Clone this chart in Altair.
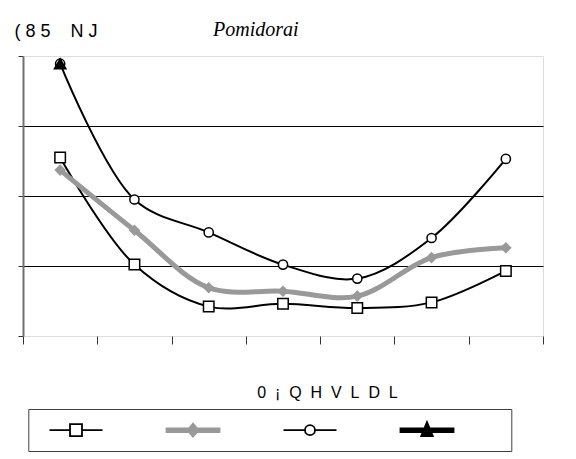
import altair as alt
import pandas as pd

months = ["1", "2", "3", "4", "5", "6", "7"]
series = ["Serija 1", "Serija 2", "Serija 3", "Serija 4"]
s1 = [2.55, 1.02, 0.42, 0.46, 0.40, 0.48, 0.93]
s2 = [2.37, 1.51, 0.69, 0.64, 0.57, 1.12, 1.26]
s3 = [3.89, 1.95, 1.48, 1.02, 0.82, 1.40, 2.53]
s4 = [3.89, None, None, None, None, None, None]

rows = []
for name, vals in zip(series, [s1, s2, s3, s4]):
    for m, v in zip(months, vals):
        rows.append({"month": m, "series": name, "value": v})
df = pd.DataFrame(rows)

# legend glyphs (line + marker) as custom symbol paths
bar = "M-1.767,-0.123H1.767V0.123H-1.767Z"
glyph_core = [
    "M-1.767,0H-0.4M0.4,0H1.767M-0.4,-0.4H0.4V0.4H-0.4Z",
    bar + "M0,-0.433L0.367,0L0,0.433L-0.367,0Z",
    "M-1.767,0H-0.333M0.333,0H1.767M-0.333,0A0.333,0.333,0,1,1,0.333,0A0.333,0.333,0,1,1,-0.333,0Z",
    bar + "M0,-0.533L0.387,0.4L-0.387,0.4Z",
]
glyph_extent = ["M-2.6,-0.82M4.71,0.807", "M-2.6,-0.82M4.71,0.807",
                "M-2.6,-0.82M4.71,0.807", "M-2.6,-0.82M5.027,0.807"]
glyphs = [e + g for e, g in zip(glyph_extent, glyph_core)]
leg_df = pd.DataFrame({"key": series})

line_colors = ["black", "#999999", "black", "black"]
line_widths = [2, 5, 2, 5]
marker_shapes = ["square", "diamond", "circle", "triangle-up"]
marker_fill = ["white", "#999999", "white", "black"]
marker_stroke = ["black", "#999999", "black", "black"]
marker_size = [110, 90, 85, 130]

NB = "\u00a0"
x_title = (NB * 2).join(["0", "¡", "Q", "H", "V", "L", "D", "L"])
y_title = "(" + NB + "8" + NB + "5" + NB * 4 + "N" + NB + "J"

x_enc = alt.X(
    "month:N", sort=months,
    scale=alt.Scale(type="band", paddingInner=0, paddingOuter=0),
    axis=alt.Axis(labels=False, ticks=True, tickSize=8, tickBand="extent",
                  tickColor="#333333", domain=False, grid=False,
                  title=x_title, titleFont="Liberation Sans",
                  titleFontSize=16, titleFontWeight="normal", titleColor="black",
                  titleAlign="center", titleBaseline="alphabetic",
                  titleX=304, titleY=61),
)
y_enc = alt.Y(
    "value:Q", scale=alt.Scale(domain=[0, 4], nice=False, zero=True),
    axis=alt.Axis(values=[0, 1, 2, 3, 4], labels=False, ticks=True, tickSize=5,
                  tickColor="#333333", domain=True, domainColor="#707070",
                  domainWidth=2, grid=True, gridColor="black", gridWidth=1,
                  gridOpacity={"condition": {"test": "datum.value === 0 || datum.value === 4", "value": 0}, "value": 1},
                  title=y_title, titleAngle=0, titleAlign="left",
                  titleBaseline="alphabetic", titleX=-9, titleY=-20,
                  titleFont="Liberation Sans", titleFontSize=18,
                  titleFontWeight="normal", titleColor="black"),
)

lines = alt.Chart(df).mark_line(interpolate="catmull-rom").encode(
    x=x_enc, y=y_enc,
    color=alt.Color("series:N", scale=alt.Scale(domain=series, range=line_colors), legend=None),
    strokeWidth=alt.StrokeWidth("series:N", scale=alt.Scale(type="ordinal", domain=series, range=line_widths), legend=None),
)

points = alt.Chart(df).mark_point(filled=True, strokeWidth=1.5, opacity=1).encode(
    x=x_enc, y=y_enc,
    shape=alt.Shape("series:N", scale=alt.Scale(domain=series, range=marker_shapes), legend=None),
    fill=alt.Fill("series:N", scale=alt.Scale(domain=series, range=marker_fill), legend=None),
    stroke=alt.Stroke("series:N", scale=alt.Scale(domain=series, range=marker_stroke), legend=None),
    size=alt.Size("series:N", scale=alt.Scale(type="ordinal", domain=series, range=marker_size), legend=None),
)

leg = alt.Legend(
    orient="none", legendX=5.3, legendY=353, direction="horizontal",
    columns=4, gridAlign="each", title=None, labelExpr="''", labelOffset=0,
    symbolSize=900, symbolStrokeWidth=1.8, symbolOffset=26.7, symbolOpacity=1,
    padding=5, columnPadding=0, rowPadding=0,
    strokeColor="#404040", fillColor="white",
)
legend_layer = alt.Chart(leg_df).mark_point(filled=True, opacity=0).encode(
    shape=alt.Shape("key:N", scale=alt.Scale(domain=series, range=glyphs), legend=leg),
    fill=alt.Fill("key:N", scale=alt.Scale(domain=series, range=marker_fill), legend=leg),
    stroke=alt.Stroke("key:N", scale=alt.Scale(domain=series, range=marker_stroke), legend=leg),
)

chart = alt.layer(lines, points, legend_layer).resolve_scale(
    shape="independent", fill="independent", stroke="independent"
).properties(
    width=520, height=280,
    autosize=alt.AutoSizeParams(type="none"),
    padding={"left": 15, "top": 48, "right": 20, "bottom": 118},
    title=alt.TitleParams(text="Pomidorai", font="Liberation Serif", fontStyle="italic",
                          fontSize=20, fontWeight="normal", anchor="start", frame="group",
                          dx=190, dy=34, baseline="alphabetic", offset=0, color="black"),
).configure_view(stroke="#9a9a9a", strokeWidth=2).configure(background="white")

chart.save("out.html", embed_options={"renderer": "svg", "actions": False})
